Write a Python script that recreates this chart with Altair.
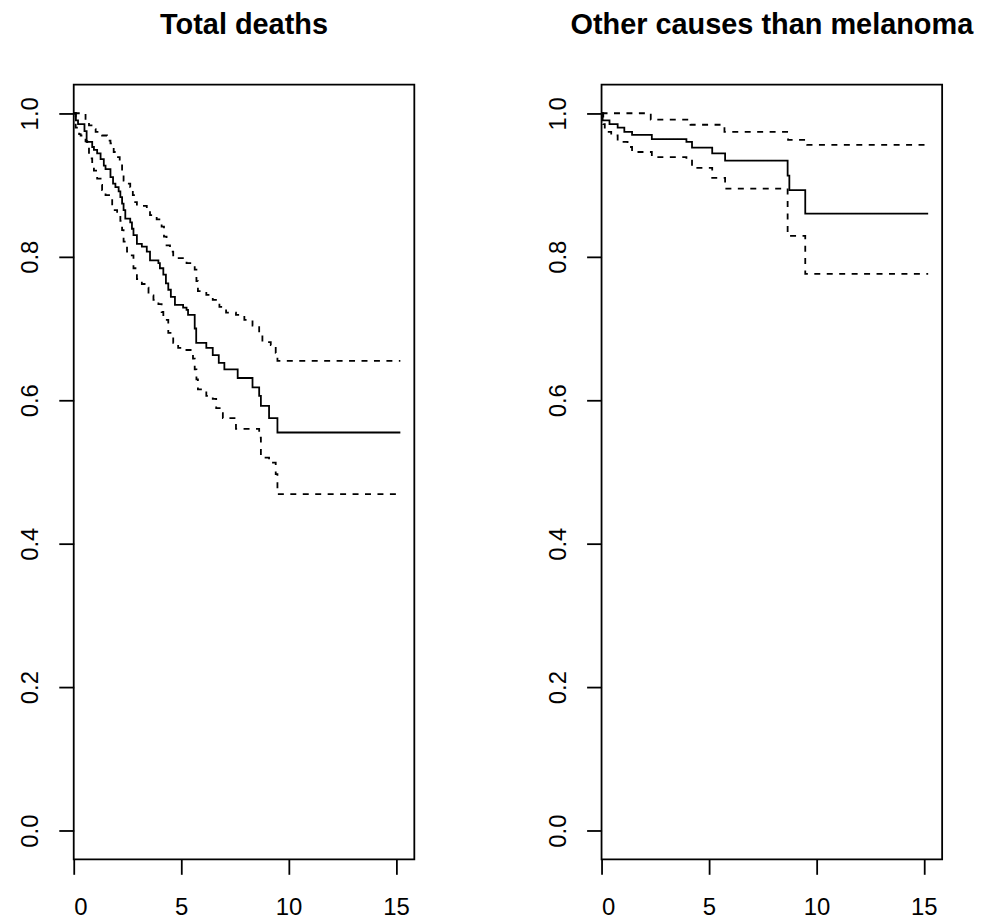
import altair as alt
import pandas as pd

FONT = "Liberation Sans"

# ---- Panel 1: Total deaths ----
td_est_t = [0, 0.1, 0.2, 0.5, 0.6, 0.86, 0.94, 1.09, 1.25, 1.40, 1.48, 1.71, 1.83, 1.94,
            2.09, 2.17, 2.25, 2.32, 2.40, 2.63, 2.71, 2.78, 2.94, 3.17, 3.40, 3.55, 3.94,
            4.01, 4.17, 4.29, 4.40, 4.52, 4.71, 5.09, 5.25, 5.32, 5.63, 5.70, 6.17, 6.47,
            6.75, 7.01, 7.63, 8.32, 8.63, 8.71, 9.09, 9.48, 15.2]
td_est_s = [1.0, 0.99, 0.985, 0.975, 0.96, 0.953, 0.949, 0.944, 0.936, 0.927, 0.922, 0.911,
            0.902, 0.897, 0.891, 0.883, 0.874, 0.865, 0.853, 0.848, 0.839, 0.830, 0.818,
            0.814, 0.807, 0.795, 0.791, 0.784, 0.775, 0.763, 0.754, 0.744, 0.733, 0.729,
            0.726, 0.719, 0.700, 0.680, 0.673, 0.663, 0.652, 0.643, 0.631, 0.618, 0.606,
            0.592, 0.575, 0.555, 0.555]

td_up_t = [0, 0.55, 0.71, 0.94, 1.02, 1.32, 1.55, 1.71, 1.86, 2.0, 2.14, 2.25, 2.32, 2.48,
           2.63, 2.75, 2.86, 2.94, 3.40, 3.55, 3.86, 4.09, 4.20, 4.32, 4.48, 4.63, 5.25,
           5.63, 5.71, 5.78, 6.17, 6.47, 6.78, 7.09, 7.55, 7.94, 8.32, 8.63, 8.78, 9.17,
           9.40, 9.48, 15.2]
td_up_s = [1.0, 0.987, 0.983, 0.978, 0.974, 0.969, 0.962, 0.958, 0.946, 0.939, 0.930, 0.918,
           0.906, 0.902, 0.897, 0.886, 0.876, 0.871, 0.867, 0.858, 0.852, 0.842, 0.828,
           0.816, 0.807, 0.798, 0.791, 0.782, 0.766, 0.752, 0.747, 0.740, 0.730, 0.722,
           0.719, 0.712, 0.704, 0.691, 0.681, 0.677, 0.666, 0.655, 0.655]

td_lo_t = [0, 0.09, 0.25, 0.32, 0.55, 0.63, 0.71, 0.86, 0.94, 1.09, 1.25, 1.32, 1.48, 1.71,
           1.79, 1.86, 2.02, 2.17, 2.25, 2.32, 2.48, 2.63, 2.78, 2.94, 3.17, 3.40, 3.48,
           3.71, 3.94, 4.09, 4.17, 4.40, 4.63, 4.86, 5.17, 5.55, 5.63, 5.71, 5.78, 6.17,
           6.47, 6.63, 6.94, 7.55, 8.63, 8.71, 9.09, 9.40, 9.48, 15.2]
td_lo_s = [1.0, 0.980, 0.971, 0.969, 0.961, 0.953, 0.937, 0.930, 0.920, 0.909, 0.900, 0.893,
           0.886, 0.881, 0.873, 0.865, 0.859, 0.850, 0.837, 0.821, 0.807, 0.802, 0.784,
           0.769, 0.762, 0.757, 0.746, 0.740, 0.734, 0.723, 0.712, 0.694, 0.680, 0.673,
           0.670, 0.658, 0.643, 0.629, 0.615, 0.606, 0.602, 0.589, 0.575, 0.560, 0.548,
           0.520, 0.513, 0.497, 0.469, 0.469]

# ---- Panel 2: Other causes than melanoma ----
oc_est_t = [0, 0.05, 0.37, 0.75, 1.06, 1.42, 2.34, 3.95, 4.21, 5.15, 5.75, 8.66, 8.74, 9.48, 15.2]
oc_est_s = [1.0, 0.990, 0.985, 0.980, 0.974, 0.970, 0.964, 0.960, 0.952, 0.944, 0.934,
            0.913, 0.893, 0.860, 0.860]

oc_up_t = [0, 2.29, 4.14, 5.72, 8.68, 9.57, 15.2]
oc_up_s = [1.0, 0.991, 0.984, 0.974, 0.963, 0.956, 0.956]

oc_lo_t = [0, 0.08, 0.15, 0.45, 0.75, 1.21, 1.42, 2.34, 3.95, 4.21, 5.15, 5.75, 8.66, 9.48, 15.2]
oc_lo_s = [1.0, 0.985, 0.974, 0.969, 0.960, 0.953, 0.946, 0.939, 0.934, 0.924, 0.910,
           0.895, 0.829, 0.776, 0.776]

x_ticks = [0, 5, 10, 15]
y_ticks = [0.0, 0.2, 0.4, 0.6, 0.8, 1.0]


def frame(series):
    rows = []
    for kind, ts, ss in series:
        for t, s in zip(ts, ss):
            rows.append({"kind": kind, "t": t, "s": s})
    return pd.DataFrame(rows)


def panel(title, series, w):
    df = frame(series)
    return alt.Chart(df).mark_line(
        interpolate="step-after", color="black", strokeWidth=1.8
    ).encode(
        x=alt.X("t:Q", title=None,
                scale=alt.Scale(domain=[0, 15.85], nice=False, zero=False),
                axis=alt.Axis(values=x_ticks, format="d")),
        y=alt.Y("s:Q", title=None,
                scale=alt.Scale(domain=[-0.04, 1.04], nice=False, zero=False),
                axis=alt.Axis(values=y_ticks, format=".1f", labelAngle=270,
                              labelAlign="center", labelBaseline="alphabetic")),
        strokeDash=alt.StrokeDash("kind:N", legend=None,
                                  scale=alt.Scale(domain=["est", "upper", "lower"],
                                                  range=[[1, 0], [6, 6.5], [6, 6.5]])),
        detail="kind:N",
    ).properties(
        width=w, height=778,
        title=alt.TitleParams(title, font=FONT, fontSize=29, fontWeight="bold",
                              anchor="middle", baseline="alphabetic", offset=22,
                              color="black"),
    )


left = panel("Total deaths", [("est", td_est_t, td_est_s),
                              ("upper", td_up_t, td_up_s),
                              ("lower", td_lo_t, td_lo_s)], 342)
right = panel("Other causes than melanoma", [("est", oc_est_t, oc_est_s),
                                            ("upper", oc_up_t, oc_up_s),
                                            ("lower", oc_lo_t, oc_lo_s)], 342)

chart = alt.hconcat(left, right, spacing=131).properties(
    padding={"left": 10, "top": 0, "right": 0, "bottom": 0},
    background="white",
).configure_view(
    stroke="black", strokeWidth=1.8
).configure_axis(
    domain=False, grid=False, ticks=True, tickColor="black", tickWidth=1.8,
    tickSize=15, labelFont=FONT, labelFontSize=24, labelColor="black",
    labelPadding=21
)

chart.save("out.html", embed_options={"renderer": "svg", "actions": False})
